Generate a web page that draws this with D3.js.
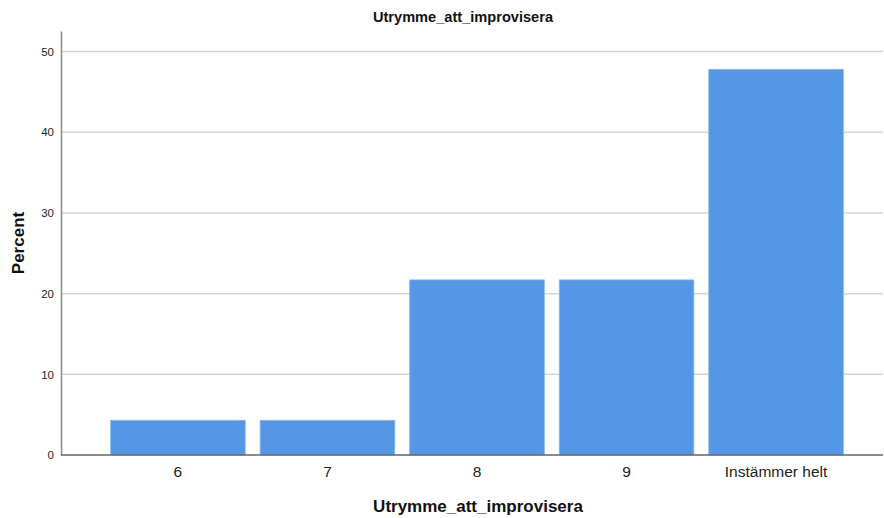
<!DOCTYPE html>
<html><head><meta charset="utf-8">
<script src="https://cdn.jsdelivr.net/npm/d3@7"></script>
<style>body{margin:0;background:#fff;} svg{display:block;font-family:"Liberation Sans",Arial,sans-serif;}</style>
</head><body>
<svg id="c" width="884" height="518"></svg>
<script>
const categories = ["6", "7", "8", "9", "Instämmer helt"];
const percents = [4.3, 4.3, 21.7, 21.7, 47.8];
const yTicks = [0, 10, 20, 30, 40, 50];
const yMax = 52.55;
const title = "Utrymme_att_improvisera";
const xTitle = "Utrymme_att_improvisera";
const yTitle = "Percent";

(function () {
const svg = d3.select("#c");
const pL = 61, pR = 883, pT = 31, pB = 455;

const x = d3.scaleBand().domain(categories).range([pL, 893]).paddingInner(0.1).paddingOuter(0.332);
const y = d3.scaleLinear().domain([0, yMax]).range([pB, pT]);

// gridlines
svg.append("g").selectAll("line").data(yTicks.filter(d => d > 0)).join("line")
  .attr("x1", pL).attr("x2", pR).attr("y1", d => y(d)).attr("y2", d => y(d))
  .attr("stroke", "#d4d4d4").attr("stroke-width", 1.5);

// bars
svg.append("g").selectAll("rect").data(percents).join("rect")
  .attr("x", (d, i) => x(categories[i]))
  .attr("width", x.bandwidth())
  .attr("y", d => y(d))
  .attr("height", d => pB - y(d))
  .attr("fill", "#5596e5")
  .attr("stroke", "#86b4ee").attr("stroke-width", 0.8);

// y axis
const ya = svg.append("g").attr("transform", `translate(${pL},0)`)
  .call(d3.axisLeft(y).tickValues(yTicks).tickSize(0).tickPadding(7));
ya.select(".domain").attr("stroke", "#8a8a8a").attr("stroke-width", 1.5);
ya.selectAll("text").attr("font-size", 11.5).attr("fill", "#222").attr("font-family", "Liberation Sans, Arial, sans-serif");

// x axis
const xa = svg.append("g").attr("transform", `translate(0,${pB})`)
  .call(d3.axisBottom(x).tickSize(0).tickPadding(11));
xa.select(".domain").remove();
svg.append("line").attr("x1", pL).attr("x2", pR).attr("y1", pB).attr("y2", pB)
  .attr("stroke", "#666").attr("stroke-width", 1.3);
xa.selectAll("text").attr("font-size", 15.5).attr("fill", "#222").attr("font-family", "Liberation Sans, Arial, sans-serif");

// titles
svg.append("text").attr("x", 463).attr("y", 22).attr("text-anchor", "middle")
  .attr("font-weight", "bold").attr("font-size", 14.6).attr("fill", "#111").text(title);
svg.append("text").attr("x", 478).attr("y", 512).attr("text-anchor", "middle")
  .attr("font-weight", "bold").attr("font-size", 17).attr("fill", "#111").text(xTitle);
svg.append("text").attr("transform", "translate(24,243) rotate(-90)").attr("text-anchor", "middle")
  .attr("font-weight", "bold").attr("font-size", 17).attr("fill", "#111").text(yTitle);
})();
</script>
</body></html>
